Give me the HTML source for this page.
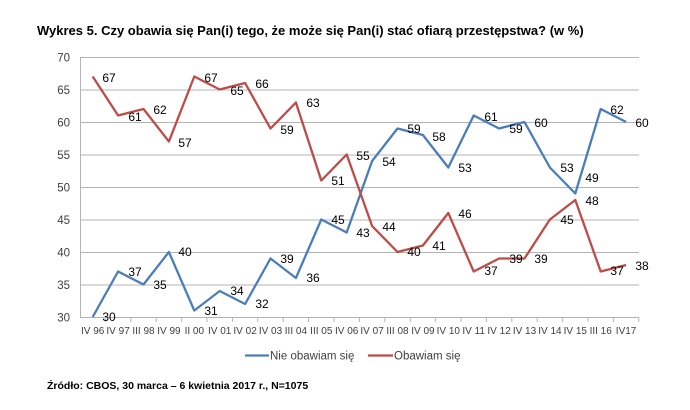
<!DOCTYPE html>
<html><head><meta charset="utf-8"><style>
body{margin:0;background:#fff;}
svg{display:block;font-family:"Liberation Sans",sans-serif;}
</style></head><body>
<svg width="690" height="410" xmlns="http://www.w3.org/2000/svg">
<text x="37" y="35" font-size="13" font-weight="bold" fill="#000">Wykres 5. Czy obawia się Pan(i) tego, że może się Pan(i) stać ofiarą przestępstwa? (w %)</text>
<g stroke="#b4b4b4" stroke-width="1">
<line x1="80" y1="57.5" x2="639" y2="57.5"/><line x1="80" y1="90" x2="639" y2="90"/>
<line x1="80" y1="122.5" x2="639" y2="122.5"/><line x1="80" y1="155" x2="639" y2="155"/>
<line x1="80" y1="187.5" x2="639" y2="187.5"/><line x1="80" y1="220" x2="639" y2="220"/>
<line x1="80" y1="252.5" x2="639" y2="252.5"/><line x1="80" y1="285" x2="639" y2="285"/>
<line x1="80" y1="317.5" x2="639" y2="317.5"/><line x1="80.5" y1="57" x2="80.5" y2="318"/>
</g>
<g stroke="#b4b4b4"><line x1="105.4" y1="317" x2="105.4" y2="322"/><line x1="130.8" y1="317" x2="130.8" y2="322"/><line x1="156.2" y1="317" x2="156.2" y2="322"/><line x1="181.6" y1="317" x2="181.6" y2="322"/><line x1="207" y1="317" x2="207" y2="322"/><line x1="232.4" y1="317" x2="232.4" y2="322"/><line x1="257.8" y1="317" x2="257.8" y2="322"/><line x1="283.2" y1="317" x2="283.2" y2="322"/><line x1="308.6" y1="317" x2="308.6" y2="322"/><line x1="334" y1="317" x2="334" y2="322"/><line x1="359.4" y1="317" x2="359.4" y2="322"/><line x1="384.8" y1="317" x2="384.8" y2="322"/><line x1="410.2" y1="317" x2="410.2" y2="322"/><line x1="435.6" y1="317" x2="435.6" y2="322"/><line x1="461" y1="317" x2="461" y2="322"/><line x1="486.4" y1="317" x2="486.4" y2="322"/><line x1="511.8" y1="317" x2="511.8" y2="322"/><line x1="537.2" y1="317" x2="537.2" y2="322"/><line x1="562.6" y1="317" x2="562.6" y2="322"/><line x1="588" y1="317" x2="588" y2="322"/><line x1="613.4" y1="317" x2="613.4" y2="322"/><line x1="638.8" y1="317" x2="638.8" y2="322"/></g>
<g font-size="11.5" fill="#404040" text-anchor="end">
<text x="70" y="61.5">70</text><text x="70" y="94">65</text><text x="70" y="126.5">60</text><text x="70" y="159">55</text><text x="70" y="191.5">50</text><text x="70" y="224">45</text><text x="70" y="256.5">40</text><text x="70" y="289">35</text><text x="70" y="321.5">30</text>
</g>
<g font-size="10" fill="#404040" text-anchor="middle">
<text x="92.7" y="334">IV 96</text><text x="118.1" y="334">IV 97</text><text x="143.5" y="334">III 98</text><text x="168.9" y="334">IV 99</text><text x="194.3" y="334">II 00</text><text x="219.7" y="334">IV 01</text><text x="245.1" y="334">IV 02</text><text x="270.5" y="334">IV 03</text><text x="295.9" y="334">III 04</text><text x="321.3" y="334">III 05</text><text x="346.7" y="334">IV 06</text><text x="372.1" y="334">IV 07</text><text x="397.5" y="334">III 08</text><text x="422.9" y="334">IV 09</text><text x="448.3" y="334">IV 10</text><text x="473.7" y="334">IV 11</text><text x="499.1" y="334">IV 12</text><text x="524.5" y="334">IV 13</text><text x="549.9" y="334">IV 14</text><text x="575.3" y="334">IV 15</text><text x="600.7" y="334">III 16</text><text x="626.1" y="334">IV17</text>
</g>
<polyline fill="none" stroke="#4a7ebb" stroke-width="2.3" stroke-linejoin="round" points="92.7,317 118.1,271.5 143.5,284.5 168.9,252 194.3,310.5 219.7,291 245.1,304 270.5,258.5 295.9,278 321.3,219.5 346.7,232.5 372.1,161 397.5,128.5 422.9,135 448.3,167.5 473.7,115.5 499.1,128.5 524.5,122 549.9,167.5 575.3,193.5 600.7,109 626.1,122"/>
<polyline fill="none" stroke="#be4b48" stroke-width="2.3" stroke-linejoin="round" points="92.7,76.5 118.1,115.5 143.5,109 168.9,141.5 194.3,76.5 219.7,89.5 245.1,83 270.5,128.5 295.9,102.5 321.3,180.5 346.7,154.5 372.1,226 397.5,252 422.9,245.5 448.3,213 473.7,271.5 499.1,258.5 524.5,258.5 549.9,219.5 575.3,200 600.7,271.5 626.1,265"/>
<g font-size="12" fill="#000" text-anchor="middle" dominant-baseline="central">
<text x="109" y="78">67</text><text x="135" y="117">61</text><text x="160" y="110">62</text><text x="185" y="143">57</text><text x="211" y="78">67</text><text x="237" y="91">65</text><text x="262" y="84">66</text><text x="287" y="130">59</text><text x="313" y="103">63</text><text x="338" y="181">51</text><text x="363" y="156">55</text><text x="389" y="227">44</text><text x="414" y="252">40</text><text x="439" y="246">41</text><text x="465" y="214">46</text><text x="491" y="271">37</text><text x="516" y="259">39</text><text x="541" y="259">39</text><text x="567" y="220">45</text><text x="592" y="201">48</text><text x="617" y="271">37</text><text x="642" y="266">38</text>
<text x="109" y="317">30</text><text x="135" y="272">37</text><text x="160" y="285">35</text><text x="185" y="252">40</text><text x="211" y="311">31</text><text x="237" y="291">34</text><text x="262" y="304">32</text><text x="287" y="259">39</text><text x="313" y="278">36</text><text x="338" y="220">45</text><text x="363" y="233">43</text><text x="389" y="162">54</text><text x="414" y="129">59</text><text x="439" y="137">58</text><text x="465" y="168">53</text><text x="491" y="117">61</text><text x="516" y="129">59</text><text x="541" y="123">60</text><text x="567" y="168">53</text><text x="592" y="178">49</text><text x="617" y="110">62</text><text x="642" y="123">60</text>
</g>
<line x1="245" y1="355.5" x2="269" y2="355.5" stroke="#4a7ebb" stroke-width="2.3"/>
<text x="270" y="359.5" font-size="11.5" fill="#404040">Nie obawiam się</text>
<line x1="368" y1="355.5" x2="393" y2="355.5" stroke="#be4b48" stroke-width="2.3"/>
<text x="394" y="359.5" font-size="11.5" fill="#404040">Obawiam się</text>
<text x="47" y="389" font-size="10.5" font-weight="bold" fill="#000">Źródło: CBOS, 30 marca – 6 kwietnia 2017 r., N=1075</text>
</svg>
</body></html>
